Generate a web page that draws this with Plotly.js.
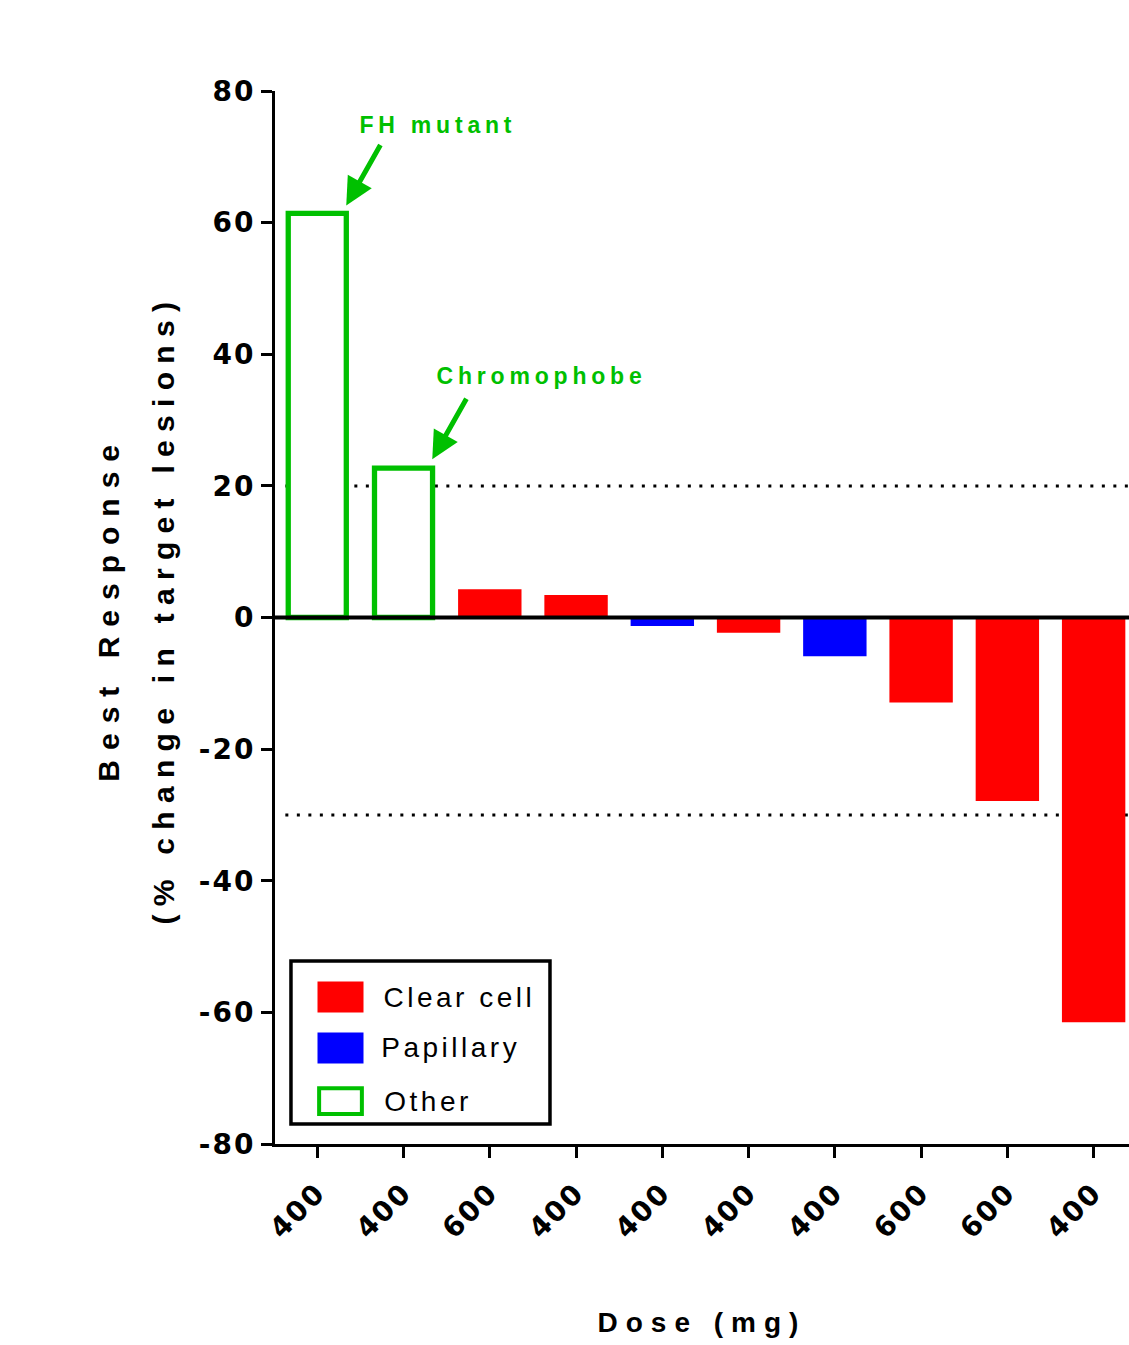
<!DOCTYPE html>
<html><head><meta charset="utf-8">
<script src="https://cdn.plot.ly/plotly-3.0.1.min.js"></script>
<style>
html,body{margin:0;padding:0;background:#fff;}
#chart{width:1129px;height:1345px;}
.xtick text, .ytick text {letter-spacing:2px;}
.g-xtitle text {letter-spacing:8px;}
.annotation[data-index="0"] text, .annotation[data-index="1"] text {letter-spacing:4.8px;}
.annotation[data-index="4"] text, .annotation[data-index="5"] text, .annotation[data-index="6"] text {letter-spacing:3.5px;}
</style>
</head><body>
<div id="chart"></div>
<script>
// ---- data ----
const doses = ['400','400','600','400','400','400','400','600','600','400'];
const response = [61.4, 22.7, 4.3, 3.4, -1.3, -2.3, -5.9, -12.9, -27.9, -61.5];
const histology = ['Other','Other','Clear cell','Clear cell','Papillary','Clear cell','Papillary','Clear cell','Clear cell','Clear cell'];
const seriesNames = ['Clear cell','Papillary','Other'];
const yTickVals = [80,60,40,20,0,-20,-40,-60,-80];
const yTickText = ['80','60','40','20','0','-20','-40','-60','-80'];
const refLines = [20, -30];
const notes = [{text:'FH mutant', idx:0}, {text:'Chromophobe', idx:1}];
const yTitleLines = ['Best Response', '(% change in target lesions)'];
const xTitle = 'Dose (mg)';

const GREEN = '#00c000';
const styles = {
  'Clear cell': {fill:'#ff0000', line:'#ff0000', lw:0, w:0.735},
  'Papillary': {fill:'#0000ff', line:'#0000ff', lw:0, w:0.735},
  'Other': {fill:'#ffffff', line:GREEN, lw:5.3, w:0.673}
};

const idx = response.map((_, i) => i);
const traces = seriesNames.map(name => {
  const ii = idx.filter(i => histology[i] === name);
  const s = styles[name];
  return {
    type:'bar', name:name,
    x: ii, y: ii.map(i => response[i]),
    width: ii.map(() => s.w),
    marker:{color:s.fill, line:{color:s.line, width:s.lw}},
    showlegend:false, hoverinfo:'x+y'
  };
});

const FONT = 'Liberation Sans, Arial, sans-serif';
const TICKFONT = 'DejaVu Sans, Liberation Sans, sans-serif';

const shapes = [];
refLines.forEach(v => shapes.push({
  type:'line', xref:'x', yref:'y', x0:-0.37, x1:9.41, y0:v, y1:v, layer:'below',
  line:{color:'#000', width:3, dash:'3px,8.5px'}
}));
shapes.push({type:'line', xref:'paper', yref:'y', x0:0, x1:1, y0:0, y1:0, layer:'above', line:{color:'#000', width:4}});
// legend box
shapes.push({type:'rect', xref:'paper', yref:'paper', x0:0.0187, x1:0.322, y0:0.019, y1:0.1738, layer:'above',
  line:{color:'#000', width:3.5}, fillcolor:'#fff'});
const legendY = [0.1396, 0.0912, 0.0408];
seriesNames.forEach((name, k) => {
  const s = styles[name];
  const yc = legendY[k];
  const inset = name === 'Other' ? 0.0019 : 0;
  shapes.push({type:'rect', xref:'paper', yref:'paper',
    x0:(317.5-275)/854 + inset, x1:(363.5-275)/854 - inset,
    y0: yc - 15.5/1053 + inset*1.3, y1: yc + 15.5/1053 - inset*1.3, layer:'above',
    line:{color:s.line, width: name === 'Other' ? 4 : 0}, fillcolor:s.fill});
});

const annotations = [];
const notePos = [{x:1.40, y:74.9}, {x:2.605, y:36.65}];
notes.forEach((n, k) => annotations.push({
  text:n.text, x:notePos[k].x, y:notePos[k].y, xref:'x', yref:'y', showarrow:false,
  font:{family:FONT, size:23, color:GREEN, weight:'bold'}, xanchor:'center', yanchor:'middle'
}));
const arrowHeads = [{x:0.336, y:62.6}, {x:1.333, y:24.05}];
notes.forEach((n, k) => annotations.push({
  text:'', x:arrowHeads[k].x, y:arrowHeads[k].y, xref:'x', yref:'y', showarrow:true,
  ax:35, ay:-62, arrowcolor:GREEN, arrowwidth:5, arrowhead:2, arrowsize:1.1, standoff:0
}));
const legendTextCx = [459, 450, 428];
seriesNames.forEach((name, k) => annotations.push({
  text:name, xref:'paper', yref:'paper', x:(legendTextCx[k]-275)/854, y:legendY[k], showarrow:false,
  xanchor:'center', yanchor:'middle', font:{family:FONT, size:28, color:'#000'}
}));

const yTitleSpacing = [10, 8.3];
const yTitleText = yTitleLines.map((t, k) =>
  '<span style="font-size:30px;letter-spacing:' + yTitleSpacing[k] + 'px">\u00a0' + t + '</span>').join('<br>');

const layout = {
  width:1129, height:1345,
  margin:{l:275, r:0, t:91, b:201},
  paper_bgcolor:'#fff', plot_bgcolor:'#fff',
  barmode:'overlay',
  font:{family:FONT, color:'#000'},
  xaxis:{
    range:[-0.49, 9.41], tickmode:'array', tickvals:idx, ticktext:doses, tickangle:-45,
    showline:true, linecolor:'#000', linewidth:3, ticks:'outside', ticklen:11, tickwidth:3, tickcolor:'#000',
    showgrid:false, zeroline:false, fixedrange:true, ticklabelstandoff:7,
    tickfont:{family:TICKFONT, size:28, weight:'bold', color:'#000'},
    title:{text:'\u00a0' + xTitle, font:{family:FONT, size:28, weight:'bold', color:'#000'}, standoff:69}
  },
  yaxis:{
    range:[-80, 80], tickmode:'array', tickvals:yTickVals, ticktext:yTickText,
    showline:true, linecolor:'#000', linewidth:3, ticks:'outside', ticklen:11, tickwidth:3, tickcolor:'#000',
    showgrid:false, zeroline:false, fixedrange:true,
    tickfont:{family:TICKFONT, size:28, weight:'bold', color:'#000'},
    title:{text:yTitleText, font:{family:FONT, size:42, weight:'bold', color:'#000'}, standoff:12}
  },
  shapes:shapes,
  annotations:annotations,
  showlegend:false
};

Plotly.newPlot('chart', traces, layout, {displayModeBar:false, staticPlot:true});
</script>
</body></html>
